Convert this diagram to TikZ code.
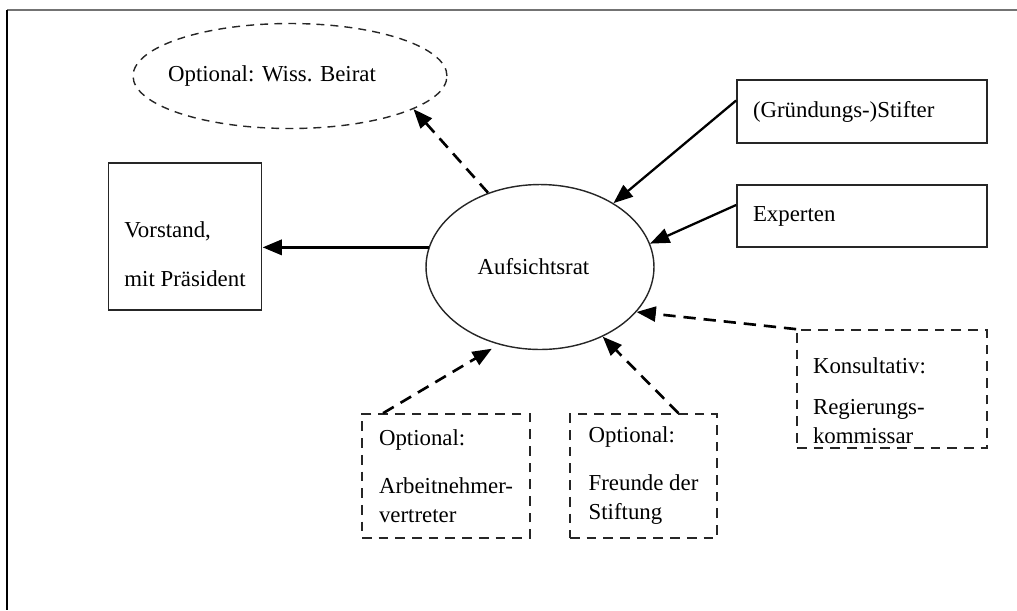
\documentclass[tikz,border=0pt]{standalone}
\usepackage{fontspec}
\setmainfont{Liberation Serif}
\usetikzlibrary{arrows.meta,shapes.geometric}

\begin{document}
\begin{tikzpicture}[
        x=0.02cm, y=-0.02cm,
        font=\fontsize{13}{16.5}\selectfont,
        box/.style={
            rectangle, draw=black!85, line width=1pt,
            align=left, inner xsep=0.32cm, inner ysep=0pt
        },
        optbox/.style={box, dash pattern=on 5.5pt off 4pt},
        gremium/.style={
            ellipse, draw=black!85, line width=0.8pt, inner sep=0pt
        },
        flow/.style={-{Triangle[length=11pt,width=8.5pt]}, line width=1.3pt},
        optflow/.style={flow, line width=1.5pt, dash pattern=on 7pt off 4.5pt}
    ]
        \useasboundingbox (0,0) rectangle (1017,610);

        % Rahmen
        \draw[line width=1.4pt, black!55] (7,10) -- (1017,10);
        \draw[line width=1.4pt] (7,10) -- (7,610);

        % Aufsichtsrat
        \node[gremium, minimum width=4.56cm, minimum height=3.3cm] (aufsicht) at (540,267)
            {\hspace*{-0.26cm}Aufsichtsrat};

        % Wiss. Beirat
        \node[gremium, dash pattern=on 4.5pt off 3.5pt,
            minimum width=6.28cm, minimum height=2.1cm] (beirat) at (290,76)
            {\hspace*{-0.72cm}Optional: Wiss. Beirat};

        % Vorstand
        \node[box, minimum width=2.92cm, minimum height=2.94cm] (vorstand) at (185,236.5)
            {\mbox{}\\[12.8pt]Vorstand,\\[11.3pt]mit Präsident};

        % Stifter und Experten
        \node[box, text width=4.36cm, minimum height=1.26cm] (stifter) at (862,111.5)
            {(Gründungs-)Stifter};
        \node[box, text width=4.36cm, minimum height=1.24cm] (experten) at (862,216)
            {Experten};

        % Konsultativ
        \node[optbox, text width=3.16cm, text height=0.34cm, text depth=0.98cm,
            minimum height=2.36cm] (konsult) at (892,389)
            {Konsultativ:\\[7pt]Regierungs-\\kommissar};

        % Optionale Gremien
        \node[optbox, minimum width=3.36cm, minimum height=2.48cm] (arbeit) at (446,476)
            {Optional:\\[10.8pt]Arbeitnehmer-\\vertreter};
        \node[optbox, minimum width=2.94cm, minimum height=2.48cm] (freunde) at (643.5,476)
            {Optional:\\[10.8pt]Freunde der\\Stiftung};

        % Beziehungen
        \draw[flow, line width=2pt] (aufsicht.170) -- (aufsicht.170 -| vorstand.east);
        \draw[optflow] (aufsicht.125.6) -- (beirat.-15);
        \draw[flow] (stifter.175) -- (aufsicht.41);
        \draw[flow] (experten.175) -- (aufsicht.12);
        \draw[optflow] (konsult.north west) -- (aufsicht.-25);
        \draw[optflow] (freunde.61) -- (aufsicht.-48);
        \draw[optflow, shorten >=0.16cm] (arbeit.135) -- (aufsicht.-118);

    \end{tikzpicture}
\end{document}
